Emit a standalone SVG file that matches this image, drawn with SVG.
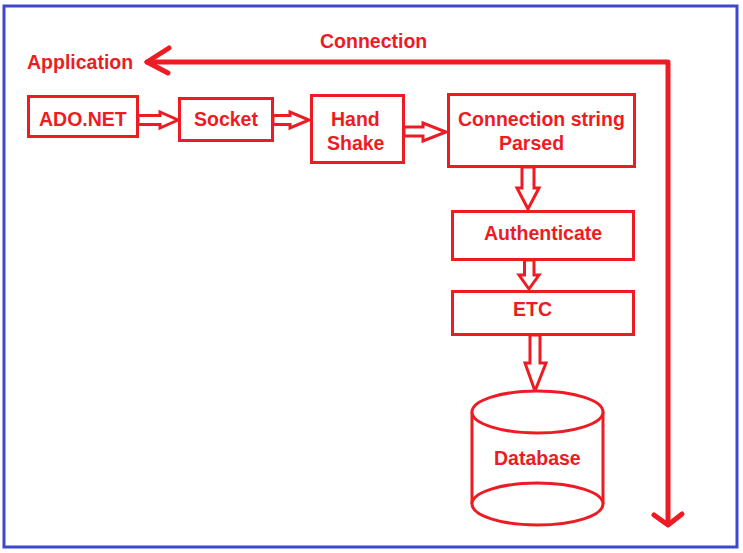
<svg xmlns="http://www.w3.org/2000/svg" width="743" height="553" viewBox="0 0 743 553">
<style>
.box{fill:#fff;stroke:#ED1C24;stroke-width:3}
.t{font-family:"Liberation Sans",Arial,sans-serif;font-weight:bold;font-size:19.5px;fill:#ED1C24}
.ha{fill:#fff;stroke:#ED1C24;stroke-width:3;stroke-linejoin:miter}
.big{fill:none;stroke:#ED1C24;stroke-width:5;stroke-linecap:round;stroke-linejoin:round}
</style>
<rect x="0" y="0" width="743" height="553" fill="#fff"/>
<rect x="4" y="6" width="733" height="541" fill="none" stroke="#3F48CC" stroke-width="3"/>
<g id="connectors">
<path class="big" d="M147,62 H668 V524"/>
<path class="big" d="M169,48 L147,62 L168,73"/>
<path class="big" d="M654,515 L668,525 L682,514"/>
<path class="ha" d="M138,115.5 H160 V112 L178,120 L160,128 V124.5 H138 Z"/>
<path class="ha" d="M273,115.5 H290 V112 L309,120 L290,128 V124.5 H273 Z"/>
<path class="ha" d="M404,127 H423 V123 L446,132 L423,141 V136 H404 Z"/>
<path class="ha" d="M522,167 H534 V188 H539 L528,209 L517,188 H522 Z"/>
<path class="ha" d="M524.5,260 H534 V275 H539 L529,289 L519,275 H524.5 Z"/>
<path class="ha" d="M530,335 H540 V363 H546 L535,391 L525,363 H530 Z"/>
</g>
<g id="application"><text class="t" x="27" y="69">Application</text></g>
<g id="connection"><text class="t" x="320" y="48">Connection</text></g>
<g id="adonet"><rect class="box" x="28.5" y="96.5" width="109" height="40"/><text class="t" x="39" y="126">ADO.NET</text></g>
<g id="socket"><rect class="box" x="179.5" y="98.5" width="93" height="42"/><text class="t" x="194" y="126">Socket</text></g>
<g id="handshake"><rect class="box" x="311.5" y="95.5" width="92" height="67"/><text class="t" x="331" y="126">Hand</text><text class="t" x="327" y="150">Shake</text></g>
<g id="connstring"><rect class="box" x="448.5" y="94.5" width="186" height="72"/><text class="t" x="458" y="126">Connection string</text><text class="t" x="499" y="150">Parsed</text></g>
<g id="authenticate"><rect class="box" x="452.5" y="211.5" width="181" height="48"/><text class="t" x="484" y="240">Authenticate</text></g>
<g id="etc"><rect class="box" x="452.5" y="291.5" width="181" height="43"/><text class="t" x="513" y="316">ETC</text></g>
<g id="database">
<path class="box" d="M472,412 V504 A65.5,21 0 0 0 603,504 V412"/>
<ellipse class="box" cx="537.5" cy="412" rx="65.5" ry="21"/>
<path class="box" fill="none" d="M472,504 A65.5,21 0 0 1 603,504"/>
<text class="t" x="494" y="465">Database</text>
</g>
</svg>
